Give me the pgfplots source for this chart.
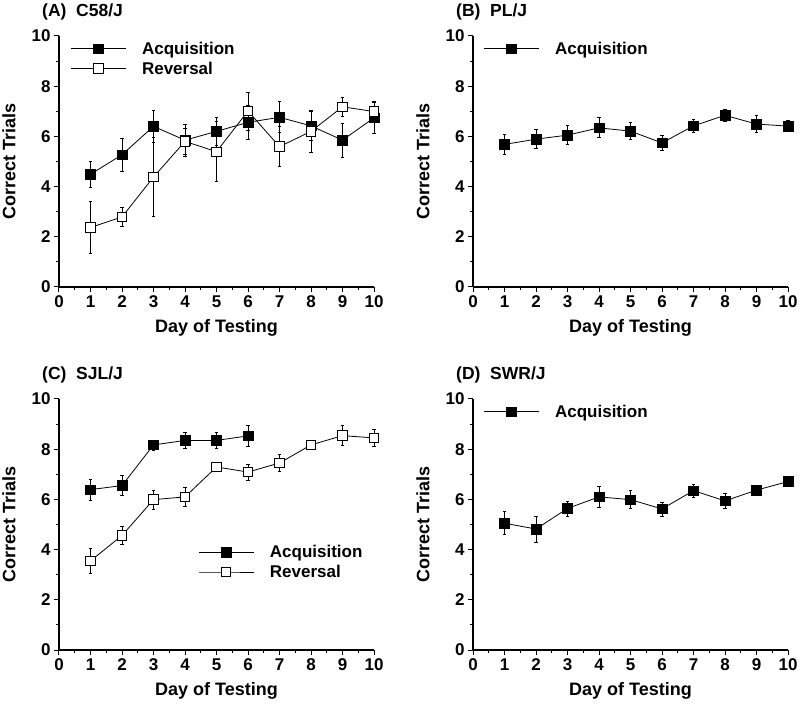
\documentclass[border=0pt]{standalone}
\usepackage{pgfplots}
\pgfplotsset{compat=1.18}
\usepackage{fontspec}
\setmainfont{Liberation Sans}

\pgfplotsset{
  panel/.style={
    scale only axis, width=315pt, height=251pt,
    xmin=0, xmax=10, ymin=0, ymax=10,
    xtick={0,...,10}, ytick={0,2,...,10},
    minor x tick num=1, minor y tick num=1,
    axis lines*=left, axis line style={line width=1.3pt},
    tick align=outside, major tick length=5pt, minor tick length=3pt,
    tick style={line width=1pt, black},
    /pgf/number format/assume math mode=true,
    tick label style={font=\bfseries\fontsize{17}{17}\selectfont},
    xlabel={Day of Testing}, ylabel={Correct Trials},
    every axis x label/.style={at={(axis description cs:0.5,0)}, yshift=-41pt, anchor=center,
      font=\bfseries\fontsize{18}{18}\selectfont},
    every axis y label/.style={at={(axis description cs:0,0.5)}, xshift=-50pt, rotate=90, anchor=center,
      font=\bfseries\fontsize{18}{18}\selectfont},
    clip=false,
    legend style={draw=none, fill=none, font=\bfseries\fontsize{17}{17}\selectfont,
      inner sep=0pt, row sep=2pt, column sep=14pt, anchor=north west},
    legend cell align=left,
    legend image code/.code={\draw[mark repeat=2,mark phase=2] plot coordinates {(0pt,0pt)(27.5pt,0pt)(55pt,0pt)};},
  },
  acq/.style={black, line width=0.8pt, mark=square*,
    mark options={mark size=4.8pt, fill=black, line width=0.6pt},
    error bars/y dir=both, error bars/y explicit,
    error bars/error bar style={line width=0.8pt},
    error bars/error mark options={rotate=90, mark size=1.7pt, line width=0.8pt}},
  rev/.style={acq, mark options={mark size=4.8pt, fill=white, line width=0.8pt}},
}
\newcommand{\paneltitle}[1]{\node[anchor=west, inner sep=0pt, font=\bfseries\fontsize{17.5}{17.5}\selectfont] at (axis description cs:-0.054,1.096) {#1};}

\begin{document}
\begin{tikzpicture}
\useasboundingbox (0pt,0pt) rectangle (800pt,704pt);

% (A) C58/J
\begin{axis}[panel, at={(59pt,417pt)}, anchor=south west,
  legend style={at={(axis description cs:0.035,0.985)}}]
\addplot[acq] coordinates {
  (1,4.49) +- (0,0.52) (2,5.27) +- (0,0.65) (3,6.40) +- (0,0.62)
  (4,5.85) +- (0,0.63) (5,6.20) +- (0,0.56) (6,6.56) +- (0,0.66)
  (7,6.76) +- (0,0.62) (8,6.42) +- (0,0.58) (9,5.85) +- (0,0.68)
  (10,6.74) +- (0,0.63)};
\addlegendentry{Acquisition}
\addplot[rev] coordinates {
  (1,2.37) +- (0,1.04) (2,2.79) +- (0,0.37) (3,4.38) +- (0,1.57)
  (4,5.80) +- (0,0.52) (5,5.39) +- (0,1.20) (6,7.01) +- (0,0.76)
  (7,5.59) +- (0,0.80) (8,6.20) +- (0,0.85) (9,7.18) +- (0,0.37)
  (10,6.99) +- (0,0.42)};
\addlegendentry{Reversal}
\paneltitle{(A)\ \ C58/J}
\end{axis}

% (B) PL/J
\begin{axis}[panel, at={(473pt,417pt)}, anchor=south west,
  legend style={at={(axis description cs:0.032,0.985)}}]
\addplot[acq] coordinates {
  (1,5.68) +- (0,0.40) (2,5.89) +- (0,0.38) (3,6.05) +- (0,0.37)
  (4,6.34) +- (0,0.40) (5,6.21) +- (0,0.33) (6,5.74) +- (0,0.30)
  (7,6.42) +- (0,0.25) (8,6.84) +- (0,0.25) (9,6.49) +- (0,0.35)
  (10,6.41) +- (0,0.22)};
\addlegendentry{Acquisition}
\paneltitle{(B)\ \ PL/J}
\end{axis}

% (C) SJL/J
\begin{axis}[panel, at={(59pt,54pt)}, anchor=south west,
  legend style={at={(axis description cs:0.441,0.426)}}]
\addplot[acq] coordinates {
  (1,6.39) +- (0,0.42) (2,6.55) +- (0,0.41) (3,8.17) +- (0,0.20)
  (4,8.35) +- (0,0.32) (5,8.35) +- (0,0.32) (6,8.53) +- (0,0.43)};
\addlegendentry{Acquisition}
\addplot[rev] coordinates {
  (1,3.55) +- (0,0.48) (2,4.56) +- (0,0.37) (3,5.99) +- (0,0.37)
  (4,6.10) +- (0,0.36) (5,7.29) +- (0,0.15) (6,7.09) +- (0,0.32)
  (7,7.45) +- (0,0.33) (8,8.17) +- (0,0.18) (9,8.54) +- (0,0.40)
  (10,8.45) +- (0,0.33)};
\addlegendentry{Reversal}
\paneltitle{(C)\ \ SJL/J}
\end{axis}

% (D) SWR/J
\begin{axis}[panel, at={(473pt,54pt)}, anchor=south west,
  legend style={at={(axis description cs:0.032,0.985)}}]
\addplot[acq] coordinates {
  (1,5.05) +- (0,0.46) (2,4.82) +- (0,0.52) (3,5.64) +- (0,0.30)
  (4,6.10) +- (0,0.42) (5,5.99) +- (0,0.36) (6,5.62) +- (0,0.28)
  (7,6.35) +- (0,0.26) (8,5.94) +- (0,0.28) (9,6.37) +- (0,0.12)
  (10,6.71) +- (0,0.15)};
\addlegendentry{Acquisition}
\paneltitle{(D)\ \ SWR/J}
\end{axis}
\end{tikzpicture}
\end{document}
